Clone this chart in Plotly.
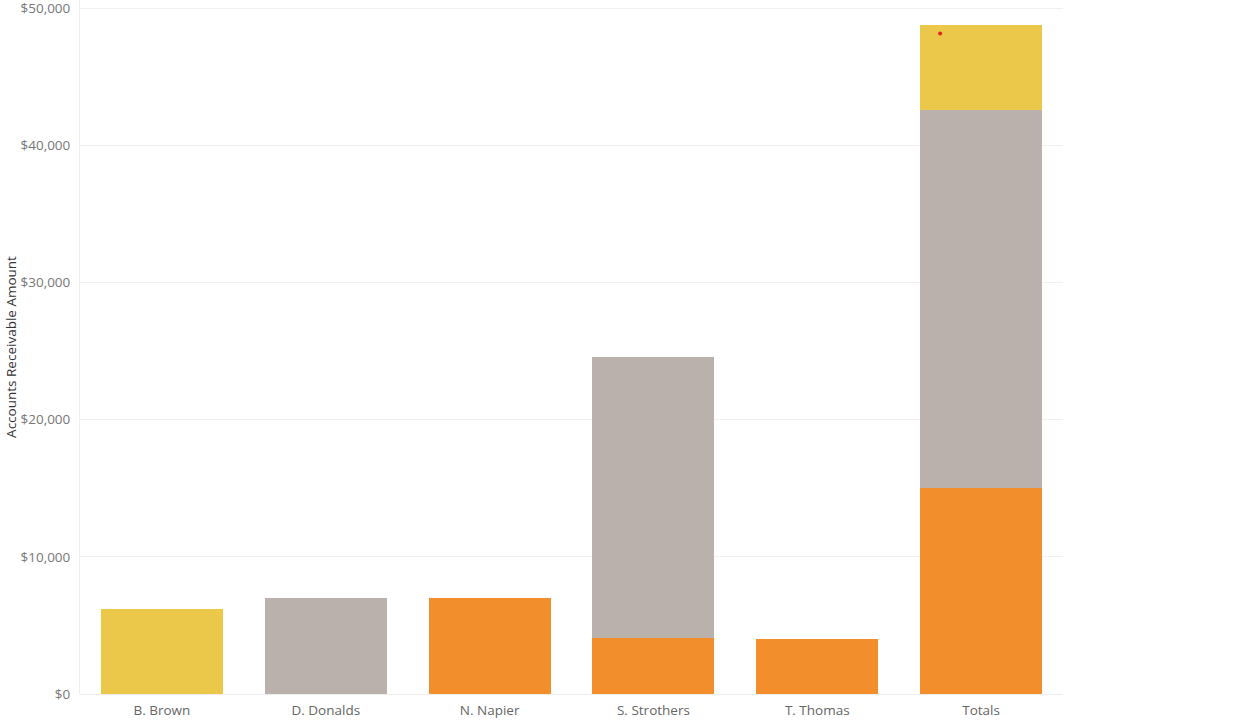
import plotly.graph_objects as go

categories = ["B. Brown", "D. Donalds", "N. Napier", "S. Strothers", "T. Thomas"]
orange_vals = [0, 0, 7000, 4050, 4000]
gray_vals = [0, 7000, 0, 20500, 0]
yellow_vals = [6200, 0, 0, 0, 0]

total_label = "Totals"
x_all = categories + [total_label]
orange_all = orange_vals + [sum(orange_vals)]
gray_all = gray_vals + [sum(gray_vals)]
yellow_all = yellow_vals + [sum(yellow_vals)]

dot_x = [4.75]
dot_y = [48150]

y_ticks = [0, 10000, 20000, 30000, 40000, 50000]
y_ticktext = ["$0", "$10,000", "$20,000", "$30,000", "$40,000", "$50,000"]

ORANGE = "#F28E2B"
GRAY = "#BAB0AC"
YELLOW = "#EBC84A"

fig = go.Figure()
fig.add_trace(go.Bar(x=x_all, y=orange_all, marker=dict(color=ORANGE, line=dict(width=0)), name="Orange"))
fig.add_trace(go.Bar(x=x_all, y=gray_all, marker=dict(color=GRAY, line=dict(width=0)), name="Gray"))
fig.add_trace(go.Bar(x=x_all, y=yellow_all, marker=dict(color=YELLOW, line=dict(width=0)), name="Yellow"))
fig.add_trace(go.Scatter(x=dot_x, y=dot_y, mode="markers", xaxis="x2",
                         marker=dict(color="#E8201A", size=4), showlegend=False))

fig.update_layout(
    width=1246, height=727,
    margin=dict(l=80, r=183, t=0, b=33),
    barmode="stack",
    bargap=0.255,
    showlegend=False,
    plot_bgcolor="white",
    paper_bgcolor="white",
    font=dict(family="Open Sans, Lato, sans-serif", size=13, color="#666666"),
    xaxis=dict(
        type="category",
        range=[-0.5, 5.5],
        showgrid=False,
        showline=False,
        ticks="",
        ticklabelstandoff=6,
        tickfont=dict(size=13.5, color="#666666"),
        zeroline=False,
    ),
    xaxis2=dict(
        overlaying="x",
        range=[-0.5, 5.5],
        visible=False,
    ),
    yaxis=dict(
        range=[0, 50600],
        tickvals=y_ticks,
        ticktext=y_ticktext,
        showgrid=True,
        gridcolor="#F0F0F0",
        gridwidth=1,
        zeroline=True,
        zerolinecolor="#EDEDED",
        zerolinewidth=1,
        showline=True,
        linecolor="#EEEEEE",
        linewidth=1,
        ticks="",
        ticklabelstandoff=6,
        ticklabeloverflow="allow",
        tickfont=dict(size=13.5, color="#777777"),
        title=dict(text="Accounts Receivable Amount", standoff=0,
                   font=dict(size=13.5, color="#333333")),
    ),
)

fig.write_html("out.html")
